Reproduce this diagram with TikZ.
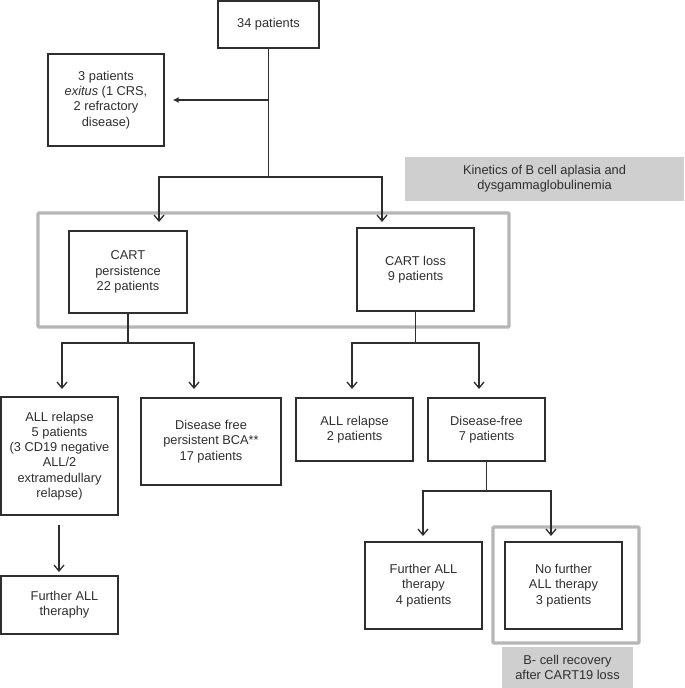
\documentclass[tikz,border=0pt]{standalone}
\usepackage{fontspec}
\setmainfont{Liberation Sans}
\usepackage{tikz}
\usetikzlibrary{arrows.meta}
\definecolor{lineGray}{HTML}{2E2E2E}
\definecolor{frameGray}{HTML}{B6B6B6}
\definecolor{fillGray}{HTML}{CFCFCF}

\begin{document}
\begin{tikzpicture}[x=1pt,y=-1pt,
	font=\fontsize{12.8}{15.3}\selectfont,text=lineGray,
	box/.style={rectangle,draw=lineGray,line width=1.3pt,align=center,inner sep=0pt},
	greybox/.style={rectangle,fill=fillGray,align=center,inner sep=0pt},
	frame/.style={draw=frameGray,line width=3.3pt,rounded corners=1pt},
	link/.style={draw=lineGray,line width=1.3pt},
	arr/.style={link,-{Straight Barb[length=6pt,width=10pt]}},
	]
	\useasboundingbox (0,0) rectangle (685,688);

	% grey frames behind
	\draw[frame] (38,213) rectangle (509,327);
	\draw[frame] (493,527) rectangle (639,643);

	% boxes
	\node[box,minimum width=101pt,minimum height=47pt] (top) at (268.5,24.5) {34 patients};
	\node[box,minimum width=116pt,minimum height=92pt] (exitus) at (106,100) {3 patients\\\textit{exitus} (1 CRS,\\2 refractory\\disease)};
	\node[greybox,minimum width=279pt,minimum height=44pt] (kinetics) at (544.5,179) {Kinetics of B cell aplasia and\\dysgammaglobulinemia};
	\node[box,minimum width=118pt,minimum height=82pt] (persist) at (128,272) {CART\\persistence\\22 patients};
	\node[box,minimum width=117pt,minimum height=83pt] (loss) at (415.5,269.5) {CART loss\\9 patients};
	\node[box,minimum width=117pt,minimum height=118pt] (relapseA) at (59.5,456) {ALL relapse\\5 patients\\(3 CD19 negative\\ALL/2\\extramedullary\\relapse)};
	\node[box,minimum width=140pt,minimum height=87pt] (bcaFree) at (211,441.5) {Disease free\\persistent BCA**\\17 patients};
	\node[box,minimum width=117pt,minimum height=58pt] (furtherA) at (59.5,605) {\hspace*{10pt}Further ALL\\\hspace*{10pt}theraphy};
	\node[box,minimum width=117pt,minimum height=63pt] (relapseB) at (354.5,429.5) {ALL relapse\\2 patients};
	\node[box,minimum width=117pt,minimum height=63pt] (diseaseFree) at (486.5,429.5) {Disease-free\\7 patients};
	\node[box,minimum width=117pt,minimum height=87pt] (furtherB) at (423.5,585.5) {Further ALL\\therapy\\4 patients};
	\node[box,minimum width=117pt,minimum height=87pt] (noFurther) at (563.5,585.5) {No further\\ALL therapy\\3 patients};
	\node[greybox,minimum width=131pt,minimum height=41pt] (recovery) at (567.5,667.5) {B- cell recovery\\after CART19 loss};

	% junctions and arrow ends
	\coordinate (j1) at (268.5,177);
	\coordinate (j2) at (128,343);
	\coordinate (j3) at (415.5,343);
	\coordinate (j4) at (486.5,491);
	\coordinate (a1) at (159,222);
	\coordinate (a2) at (382,222);
	\coordinate (b1) at (62,389);
	\coordinate (b2) at (194,389);
	\coordinate (b3) at (352,389);
	\coordinate (b4) at (479,389);
	\coordinate (c1) at (423,536);
	\coordinate (c2) at (551,536);
	\coordinate (d1) at (59,525);
	\coordinate (d2) at (59,572);

	% connectors
	\draw[link] (top) -- (j1);
	\draw[arr,-{Latex[length=6pt,width=6pt]},shorten >=8pt] (top.south |- exitus.east) -- (exitus.east);
	\draw[arr] (j1) -| (a1);
	\draw[arr] (j1) -| (a2);
	\draw[link] (persist) -- (j2);
	\draw[arr] (j2) -| (b1);
	\draw[arr] (j2) -| (b2);
	\draw[link] (loss) -- (j3);
	\draw[arr] (j3) -| (b3);
	\draw[arr] (j3) -| (b4);
	\draw[arr] (d1) -- (d2);
	\draw[link] (diseaseFree) -- (j4);
	\draw[arr] (j4) -| (c1);
	\draw[arr] (j4) -| (c2);
\end{tikzpicture}
\end{document}
